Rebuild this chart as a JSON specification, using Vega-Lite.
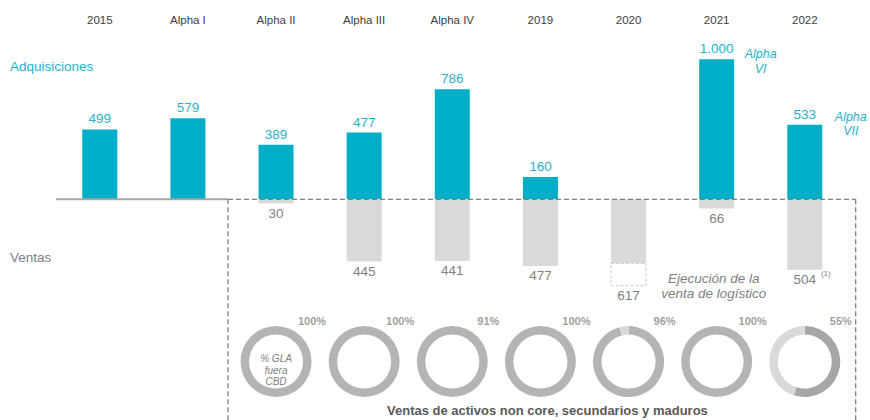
{
  "$schema": "https://vega.github.io/schema/vega-lite/v6.json",
  "width": 870,
  "height": 420,
  "autosize": "none",
  "padding": 0,
  "background": "white",
  "config": {
    "view": {"stroke": null},
    "font": "Liberation Sans",
    "locale": {"number": {"decimal": ",", "thousands": ".", "grouping": [3], "currency": ["", " €"], "minus": ""}}
  },
  "datasets": {
    "cats": [
      {"cat": "2015"}, {"cat": "Alpha I"}, {"cat": "Alpha II"}, {"cat": "Alpha III"}, {"cat": "Alpha IV"},
      {"cat": "2019"}, {"cat": "2020"}, {"cat": "2021"}, {"cat": "2022"}
    ],
    "adq": [
      {"cat": "2015", "v": 499},
      {"cat": "Alpha I", "v": 579},
      {"cat": "Alpha II", "v": 389},
      {"cat": "Alpha III", "v": 477},
      {"cat": "Alpha IV", "v": 786},
      {"cat": "2019", "v": 160},
      {"cat": "2021", "v": 1000},
      {"cat": "2022", "v": 533}
    ],
    "ven": [
      {"cat": "Alpha II", "v": -30, "total": -30},
      {"cat": "Alpha III", "v": -445, "total": -445},
      {"cat": "Alpha IV", "v": -441, "total": -441},
      {"cat": "2019", "v": -477, "total": -477},
      {"cat": "2020", "v": -457, "total": -617},
      {"cat": "2021", "v": -66, "total": -66},
      {"cat": "2022", "v": -504, "total": -504, "note": "(1)"}
    ],
    "rings": [
      {"cat": "Alpha II", "part": "a", "share": 100},
      {"cat": "Alpha III", "part": "a", "share": 100},
      {"cat": "Alpha IV", "part": "a", "share": 100},
      {"cat": "2019", "part": "a", "share": 100},
      {"cat": "2020", "part": "a", "share": 96},
      {"cat": "2020", "part": "rest", "share": 4},
      {"cat": "2021", "part": "a", "share": 100},
      {"cat": "2022", "part": "b", "share": 55},
      {"cat": "2022", "part": "rest", "share": 45}
    ],
    "pcts": [
      {"cat": "Alpha II", "pct": 1.0},
      {"cat": "Alpha III", "pct": 1.0},
      {"cat": "Alpha IV", "pct": 0.91},
      {"cat": "2019", "pct": 1.0},
      {"cat": "2020", "pct": 0.96},
      {"cat": "2021", "pct": 1.0},
      {"cat": "2022", "pct": 0.55}
    ]
  },
  "layer": [
    {
      "data": {"name": "adq"},
      "mark": {"type": "bar", "color": "#00aec7"},
      "encoding": {
        "x": {
          "field": "cat", "type": "nominal",
          "scale": {"domain": ["2015", "Alpha I", "Alpha II", "Alpha III", "Alpha IV", "2019", "2020", "2021", "2022"], "paddingInner": 0.6028, "paddingOuter": 0.7376, "align": 0.633},
          "axis": null
        },
        "y": {
          "field": "v", "type": "quantitative",
          "scale": {"domain": [-1576.4, 1423.6], "nice": false, "zero": false},
          "axis": null
        },
        "y2": {"datum": 0}
      }
    },
    {
      "data": {"name": "cats"},
      "mark": {"type": "text", "color": "#404040", "fontSize": 11.5, "baseline": "middle"},
      "encoding": {
        "x": {"field": "cat", "type": "nominal", "axis": null},
        "y": {"datum": 1274, "axis": null},
        "text": {"field": "cat"}
      }
    },
    {
      "data": {"values": [{"cat": "2015", "txt": "Adquisiciones"}]},
      "mark": {"type": "text", "color": "#1fb2cc", "fontSize": 13.5, "align": "left", "baseline": "middle"},
      "encoding": {
        "x": {"field": "cat", "type": "nominal", "bandPosition": -2.066, "axis": null},
        "y": {"datum": 945, "axis": null},
        "text": {"field": "txt"}
      }
    },
    {
      "data": {"values": [{"cat": "2015", "txt": "Ventas"}]},
      "mark": {"type": "text", "color": "#808080", "fontSize": 13.5, "align": "left", "baseline": "middle"},
      "encoding": {
        "x": {"field": "cat", "type": "nominal", "bandPosition": -2.066, "axis": null},
        "y": {"datum": -419, "axis": null},
        "text": {"field": "txt"}
      }
    },
    {
      "data": {"name": "ven"},
      "mark": {"type": "bar", "color": "#d9d9d9"},
      "encoding": {
        "x": {"field": "cat", "type": "nominal", "axis": null},
        "y": {"field": "v", "type": "quantitative", "axis": null},
        "y2": {"datum": 0}
      }
    },
    {
      "data": {"name": "ven"},
      "transform": [{"filter": "datum.total < datum.v"}],
      "mark": {"type": "bar", "fill": "white", "stroke": "#c8c8c8", "strokeWidth": 1, "strokeDash": [3, 2]},
      "encoding": {
        "x": {"field": "cat", "type": "nominal", "axis": null},
        "y": {"field": "v", "type": "quantitative", "axis": null},
        "y2": {"field": "total"}
      }
    },
    {
      "data": {"values": [{"a": "2015", "b": "Alpha II"}]},
      "mark": {"type": "rule", "color": "#a6a6a6", "strokeWidth": 2},
      "encoding": {
        "x": {"field": "a", "type": "nominal", "bandPosition": -0.75, "axis": null},
        "x2": {"field": "b", "bandPosition": -0.873},
        "y": {"datum": 0, "axis": null}
      }
    },
    {
      "data": {"values": [{"a": "Alpha II", "b": "2022"}]},
      "mark": {"type": "rule", "color": "#7f7f7f", "strokeWidth": 1.3, "strokeDash": [5, 3]},
      "encoding": {
        "x": {"field": "a", "type": "nominal", "bandPosition": -0.873, "axis": null},
        "x2": {"field": "b", "bandPosition": 1.954},
        "y": {"datum": 0, "axis": null}
      }
    },
    {
      "data": {"values": [{"a": "Alpha II"}]},
      "mark": {"type": "rule", "color": "#7f7f7f", "strokeWidth": 1.3, "strokeDash": [5, 3]},
      "encoding": {
        "x": {"field": "a", "type": "nominal", "bandPosition": -0.873, "axis": null},
        "y": {"datum": 0, "axis": null},
        "y2": {"datum": -1600}
      }
    },
    {
      "data": {"values": [{"a": "2022"}]},
      "mark": {"type": "rule", "color": "#7f7f7f", "strokeWidth": 1.3, "strokeDash": [5, 3]},
      "encoding": {
        "x": {"field": "a", "type": "nominal", "bandPosition": 1.954, "axis": null},
        "y": {"datum": 0, "axis": null},
        "y2": {"datum": -1600}
      }
    },
    {
      "data": {"name": "adq"},
      "mark": {"type": "text", "color": "#1fb2cc", "fontSize": 13.5, "baseline": "alphabetic", "dy": -6},
      "encoding": {
        "x": {"field": "cat", "type": "nominal", "axis": null},
        "y": {"field": "v", "type": "quantitative", "axis": null},
        "text": {"field": "v", "type": "quantitative", "format": ",d"}
      }
    },
    {
      "data": {"name": "ven"},
      "mark": {"type": "text", "color": "#7f7f7f", "fontSize": 13.5, "baseline": "top", "dy": 3},
      "encoding": {
        "x": {"field": "cat", "type": "nominal", "axis": null},
        "y": {"field": "total", "type": "quantitative", "axis": null},
        "text": {"field": "total", "type": "quantitative", "format": "d"}
      }
    },
    {
      "data": {"name": "ven"},
      "transform": [{"filter": "datum.note"}],
      "mark": {"type": "text", "color": "#7f7f7f", "fontSize": 8, "baseline": "top", "dx": 21, "dy": 0},
      "encoding": {
        "x": {"field": "cat", "type": "nominal", "axis": null},
        "y": {"field": "total", "type": "quantitative", "axis": null},
        "text": {"field": "note"}
      }
    },
    {
      "data": {"values": [{"cat": "2021", "txt": "Alpha\nVI"}]},
      "mark": {"type": "text", "color": "#1fb2cc", "fontSize": 12.5, "fontStyle": "italic", "lineBreak": "\n", "lineHeight": 15, "baseline": "middle", "dx": 44},
      "encoding": {
        "x": {"field": "cat", "type": "nominal", "axis": null},
        "y": {"datum": 1036, "axis": null},
        "text": {"field": "txt"}
      }
    },
    {
      "data": {"values": [{"cat": "2022", "txt": "Alpha\nVII"}]},
      "mark": {"type": "text", "color": "#1fb2cc", "fontSize": 12.5, "fontStyle": "italic", "lineBreak": "\n", "lineHeight": 14, "baseline": "middle", "dx": 46},
      "encoding": {
        "x": {"field": "cat", "type": "nominal", "axis": null},
        "y": {"datum": 591, "axis": null},
        "text": {"field": "txt"}
      }
    },
    {
      "data": {"values": [{"cat": "2021", "txt": "Ejecución de la\nventa de logístico"}]},
      "mark": {"type": "text", "color": "#7f7f7f", "fontSize": 13.5, "fontStyle": "italic", "lineBreak": "\n", "lineHeight": 15, "baseline": "middle", "dx": -3},
      "encoding": {
        "x": {"field": "cat", "type": "nominal", "axis": null},
        "y": {"datum": -566, "axis": null},
        "text": {"field": "txt"}
      }
    },
    {
      "data": {"name": "rings"},
      "transform": [{"stack": "share", "groupby": ["cat"], "sort": [{"field": "part", "order": "ascending"}], "as": ["s0", "s1"]}],
      "mark": {"type": "arc", "innerRadius": 27, "outerRadius": 35.5},
      "encoding": {
        "x": {"field": "cat", "type": "nominal", "axis": null},
        "y": {"datum": -1159, "axis": null},
        "theta": {"field": "s0", "type": "quantitative", "scale": {"domain": [0, 100]}},
        "theta2": {"field": "s1"},
        "color": {"field": "part", "type": "nominal", "scale": {"domain": ["a", "b", "rest"], "range": ["#b4b4b4", "#a6a6a6", "#d9d9d9"]}, "legend": null}
      }
    },
    {
      "data": {"name": "pcts"},
      "mark": {"type": "text", "color": "#a0a0a0", "fontSize": 11, "fontWeight": "bold", "baseline": "middle", "dx": 36},
      "encoding": {
        "x": {"field": "cat", "type": "nominal", "axis": null},
        "y": {"datum": -876, "axis": null},
        "text": {"field": "pct", "type": "quantitative", "format": ".0%"}
      }
    },
    {
      "data": {"values": [{"cat": "Alpha II", "txt": "% GLA\nfuera\nCBD"}]},
      "mark": {"type": "text", "color": "#808080", "fontSize": 10, "fontStyle": "italic", "lineBreak": "\n", "lineHeight": 11.5, "baseline": "middle"},
      "encoding": {
        "x": {"field": "cat", "type": "nominal", "axis": null},
        "y": {"datum": -1144, "axis": null},
        "text": {"field": "txt"}
      }
    },
    {
      "data": {"values": [{"cat": "2019", "txt": "Ventas de activos non core, secundarios y maduros"}]},
      "mark": {"type": "text", "color": "#595959", "fontSize": 13, "fontWeight": "bold", "baseline": "middle", "dx": 7},
      "encoding": {
        "x": {"field": "cat", "type": "nominal", "axis": null},
        "y": {"datum": -1512, "axis": null},
        "text": {"field": "txt"}
      }
    }
  ]
}
